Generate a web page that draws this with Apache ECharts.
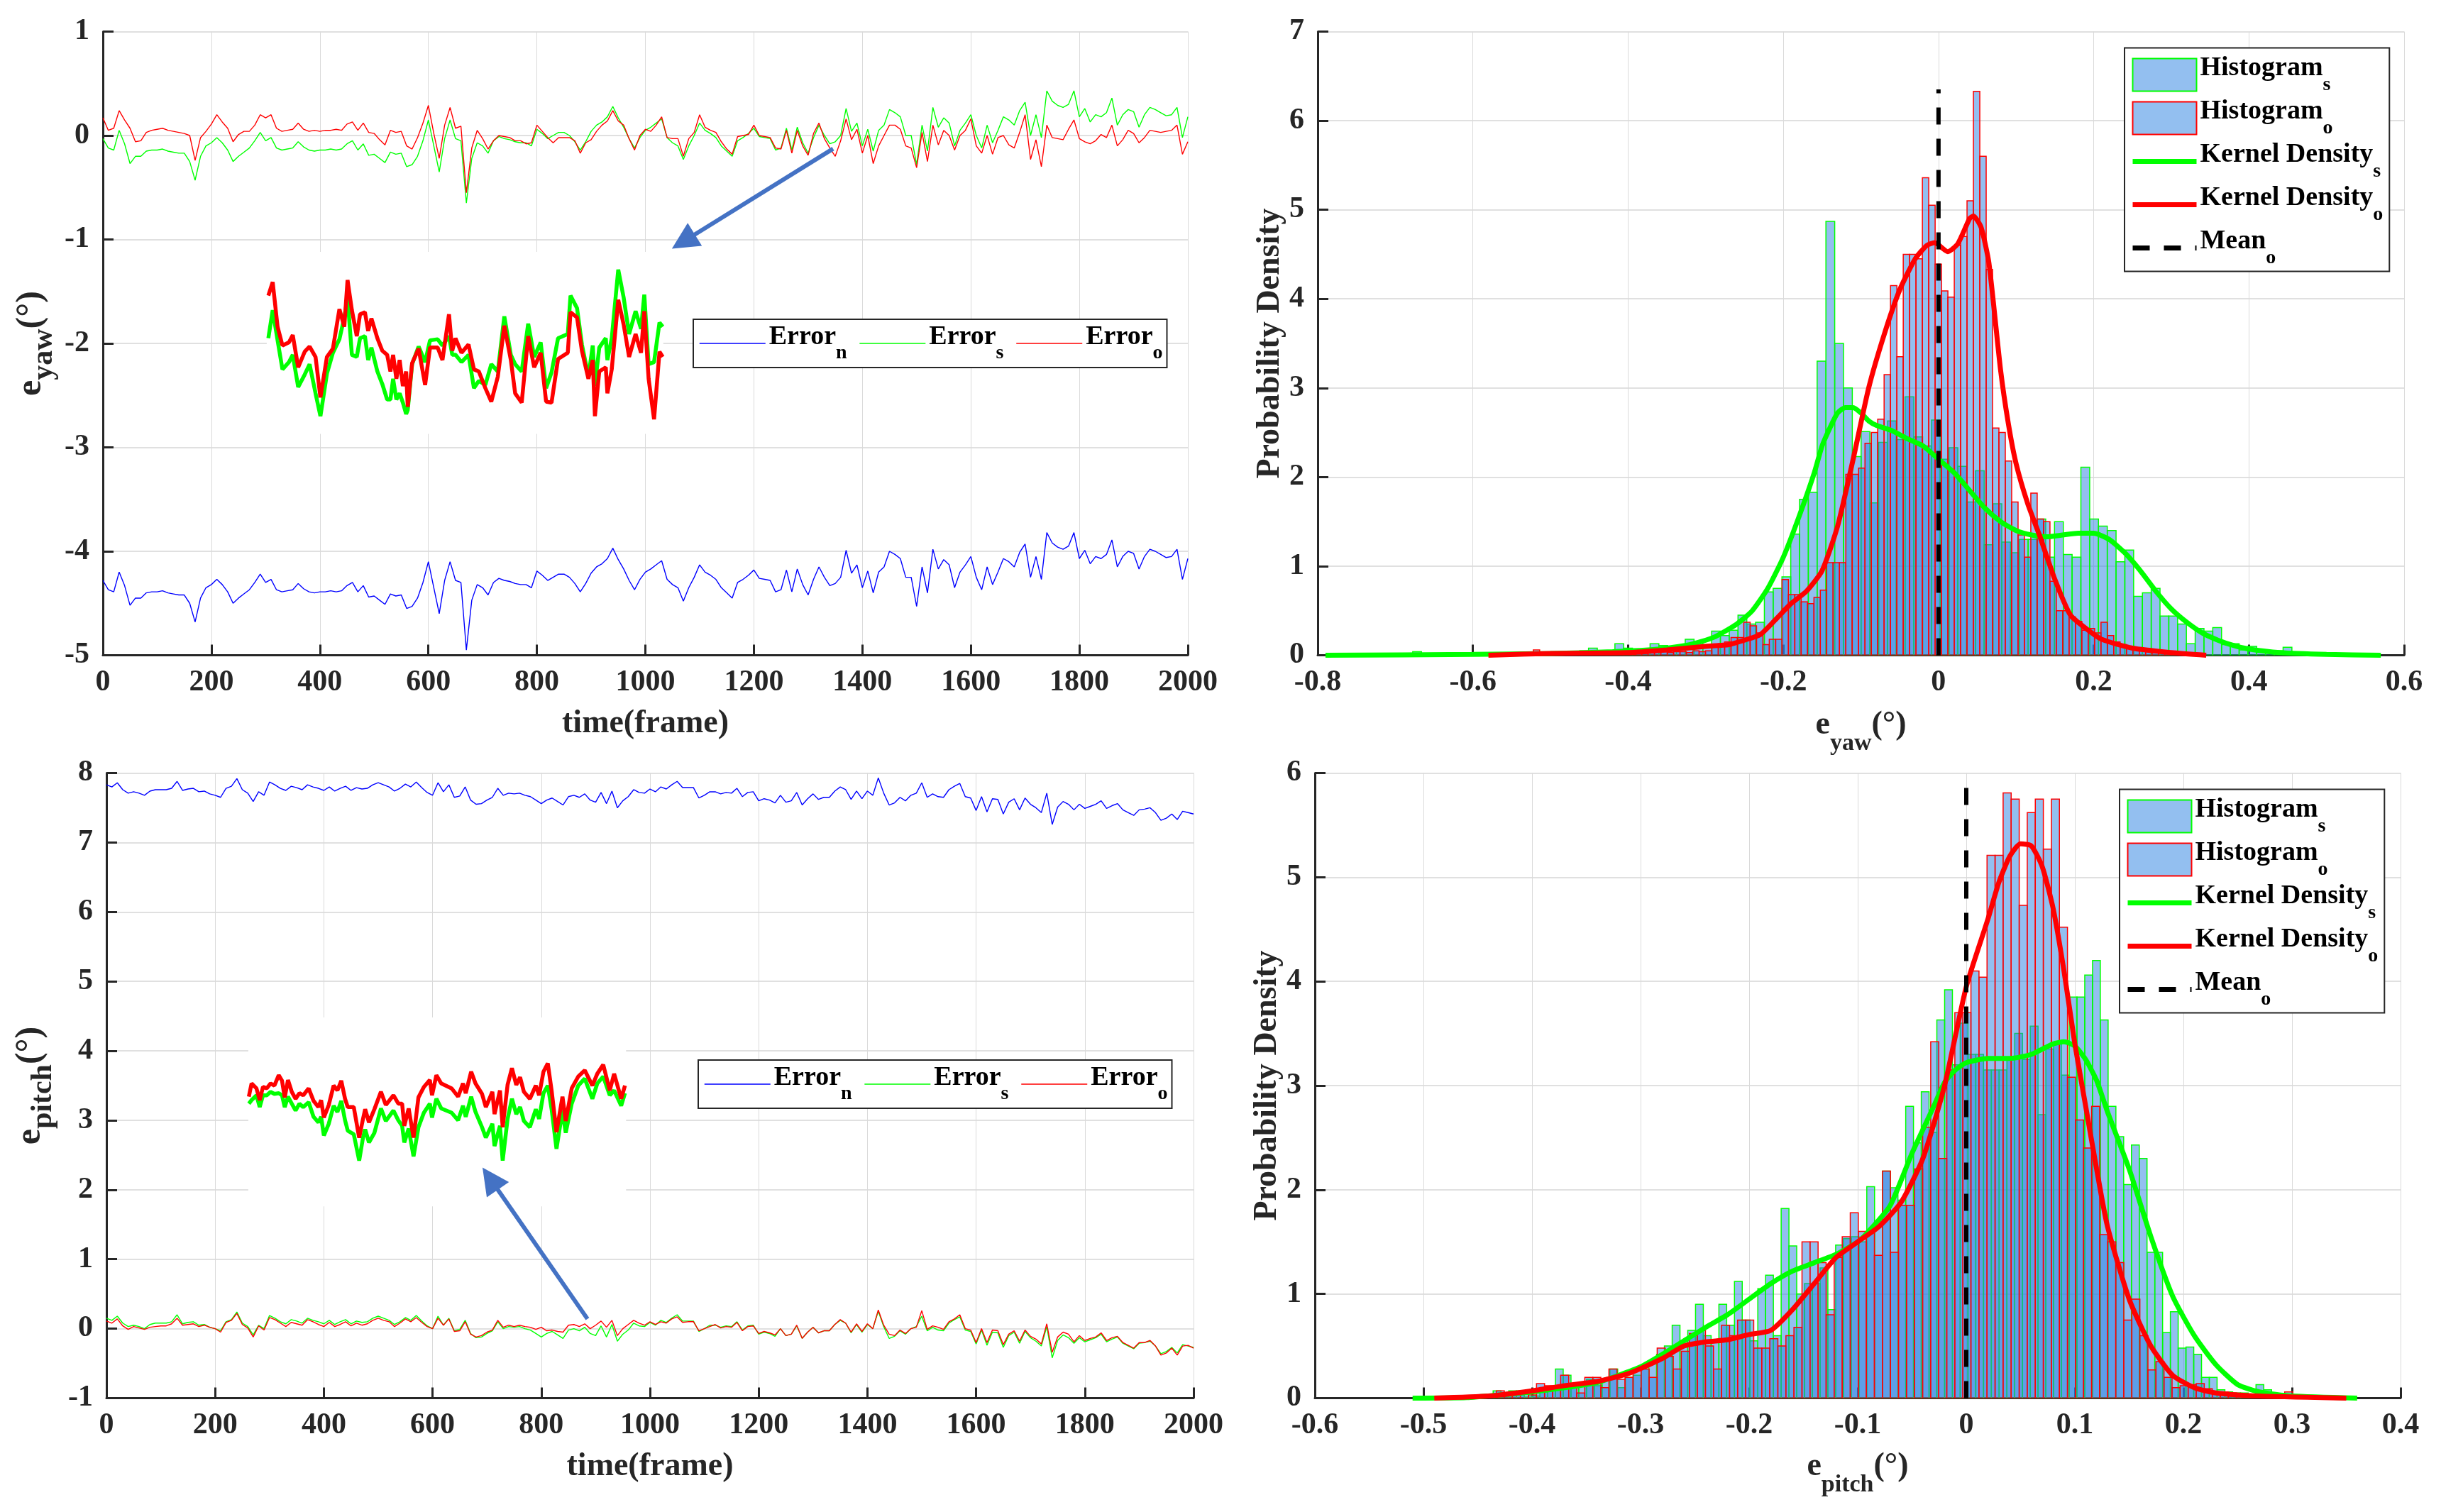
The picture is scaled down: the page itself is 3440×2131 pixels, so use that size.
<!DOCTYPE html>
<html>
<head>
<meta charset="utf-8">
<style>
  html, body { margin: 0; padding: 0; background: #fff; }
  #main { width: 3440px; height: 2131px; }
</style>
<script src="https://cdn.jsdelivr.net/npm/echarts@6/dist/echarts.min.js"></script>
</head>
<body>
<div id="main"></div>
<script>
// frames are sampled every 10 for the time traces
var frameStep = 10;

var yawErrorN = [
  -4.28,-4.37,-4.39,-4.2,-4.33,-4.52,-4.45,-4.45,-4.4,-4.39,
  -4.39,-4.38,-4.4,-4.41,-4.42,-4.42,-4.5,-4.68,-4.45,-4.35,
  -4.32,-4.27,-4.32,-4.39,-4.5,-4.45,-4.41,-4.37,-4.3,-4.22,
  -4.3,-4.27,-4.37,-4.39,-4.38,-4.37,-4.31,-4.36,-4.39,-4.4,
  -4.39,-4.39,-4.38,-4.39,-4.38,-4.33,-4.3,-4.39,-4.33,-4.44,
  -4.43,-4.47,-4.51,-4.41,-4.43,-4.42,-4.55,-4.53,-4.45,-4.3,
  -4.1,-4.35,-4.6,-4.28,-4.1,-4.28,-4.3,-4.95,-4.47,-4.32,
  -4.35,-4.42,-4.3,-4.26,-4.28,-4.29,-4.31,-4.32,-4.32,-4.35,
  -4.19,-4.23,-4.28,-4.25,-4.22,-4.22,-4.25,-4.31,-4.39,-4.31,
  -4.21,-4.15,-4.12,-4.07,-3.97,-4.08,-4.17,-4.28,-4.37,-4.27,
  -4.2,
  -4.17,-4.13,-4.09,-4.27,-4.32,-4.35,-4.48,-4.35,-4.25,-4.13,
  -4.2,-4.23,-4.27,-4.35,-4.4,-4.45,-4.3,-4.27,-4.23,-4.18,
  -4.26,-4.27,-4.28,-4.39,-4.37,-4.18,-4.39,-4.17,-4.32,-4.42,
  -4.27,-4.15,-4.25,-4.33,-4.31,-4.25,-3.99,-4.21,-4.13,-4.35,
  -4.19,-4.4,-4.2,-4.15,-4.0,-4.03,-4.07,-4.25,-4.25,-4.53,
  -4.15,-4.4,-3.98,-4.17,-4.08,-4.13,-4.35,-4.2,-4.13,-4.05,
  -4.25,-4.37,-4.15,-4.32,-4.2,-4.07,-4.1,-4.15,-4.01,-3.93,
  -4.25,-4.05,-4.27,-3.82,-3.92,-3.96,-3.98,-3.95,-3.82,-4.07,
  -3.99,-4.12,-4.05,-4.07,-4.03,-3.89,-4.15,-4.05,-4.0,-4.02,
  -4.17,-4.05,-3.98,-4.0,-4.03,-4.06,-4.05,-3.98,-4.27,-4.07
];
var yawErrorS = [
  -.03,-.12,-.14,.05,-.08,-.27,-.2,-.2,-.15,-.14,
  -.14,-.13,-.15,-.16,-.17,-.17,-.25,-.43,-.2,-.1,
  -.07,-.02,-.07,-.14,-.25,-.2,-.16,-.12,-.05,.03,
  -.05,-.02,-.12,-.14,-.13,-.12,-.06,-.11,-.14,-.15,
  -.14,-.14,-.13,-.14,-.13,-.08,-.05,-.14,-.08,-.19,
  -.18,-.22,-.26,-.16,-.18,-.17,-.3,-.28,-.2,-.05,
  .15,-.1,-.35,-.03,.15,-.03,-.05,-.65,-.22,-.07,
  -.1,-.17,-.05,-.01,-.03,-.04,-.06,-.07,-.07,-.1,
  .06,.02,-.03,0,.03,.03,0,-.06,-.14,-.06,
  .04,.1,.13,.18,.28,.17,.08,-.03,-.12,-.02,
  .05,
  .08,.12,.16,-.02,-.07,-.1,-.23,-.1,0,.12,
  .05,.02,-.02,-.1,-.15,-.2,-.05,-.02,.02,.07,
  -.01,-.02,-.03,-.14,-.12,.07,-.14,.08,-.07,-.17,
  -.02,.1,0,-.08,-.06,0,.26,.04,.12,-.1,
  .06,-.15,.05,.1,.25,.22,.18,0,0,-.28,
  .1,-.15,.27,.08,.17,.12,-.1,.05,.12,.2,
  0,-.12,.1,-.07,.05,.18,.15,.1,.24,.32,
  0,.2,-.02,.43,.33,.29,.27,.3,.43,.18,
  .26,.13,.2,.18,.22,.36,.1,.2,.25,.23,
  .08,.2,.27,.25,.22,.19,.2,.27,-.02,.18
];
var yawErrorO = [
  .17,.05,.07,.24,.15,.07,-.06,-.05,.03,.05,
  .06,.07,.05,.04,.03,.02,0,-.24,-.02,.04,
  .11,.2,.13,.07,-.06,.01,.04,.04,.1,.2,
  .17,.2,.07,.04,.05,.06,.12,.06,.04,.05,
  .04,.05,.05,.06,.05,.11,.13,.05,.12,.03,
  .02,-.04,-.09,.05,.03,.04,-.1,-.13,-.02,.12,
  .29,.02,-.22,.1,.27,.07,.09,-.55,-.12,.05,
  -.03,-.13,-.05,0,-.01,-.02,-.05,-.05,-.08,-.07,
  .1,.04,-.02,-.07,-.02,-.02,-.02,-.05,-.17,-.07,
  -.04,.04,.1,.14,.24,.14,.1,-.03,-.14,0,
  .06,
  .04,.1,.18,-.02,-.03,-.03,-.2,-.03,.03,.2,
  .08,.05,.03,-.06,-.13,-.18,-.01,0,.01,.1,
  0,-.01,-.02,-.12,-.13,.05,-.17,.05,-.1,-.19,
  .02,.12,-.03,-.12,-.2,-.05,.16,-.04,.06,-.17,
  0,-.27,-.1,0,.1,.1,.06,-.1,-.12,-.31,
  .03,-.25,.1,-.09,.05,0,-.14,0,.05,.16,
  -.1,-.17,0,-.18,-.02,0,-.09,-.12,.03,.2,
  -.23,-.04,-.3,.1,-.02,-.03,-.04,.06,.15,-.03,
  -.06,-.08,-.05,.01,-.02,.1,-.1,-.04,.05,.02,
  -.07,-.02,.05,.04,.03,.04,.05,.1,-.18,-.06
];

var pitchErrorN = [
  7.83,7.8,7.86,7.76,7.71,7.73,7.71,7.68,7.74,7.76,
  7.76,7.76,7.78,7.88,7.75,7.77,7.78,7.73,7.74,7.7,
  7.68,7.65,7.78,7.81,7.92,7.76,7.71,7.59,7.73,7.68,
  7.87,7.83,7.78,7.75,7.81,7.79,7.76,7.83,7.8,7.78,
  7.75,7.8,7.74,7.78,7.81,7.75,7.79,7.77,7.78,7.83,
  7.86,7.83,7.8,7.74,7.78,7.84,7.8,7.87,7.79,7.72,
  7.68,7.86,7.73,7.83,7.65,7.67,7.8,7.61,7.55,7.56,
  7.61,7.65,7.78,7.68,7.71,7.7,7.71,7.68,7.66,7.61,
  7.56,7.61,7.64,7.59,7.54,7.66,7.68,7.65,7.7,7.61,
  7.58,7.72,7.56,7.74,7.5,7.6,7.66,7.76,7.72,7.71,
  7.77,
  7.73,7.8,7.77,7.83,7.88,7.79,7.79,7.79,7.64,7.68,
  7.73,7.73,7.7,7.72,7.71,7.78,7.66,7.72,7.73,7.6,
  7.63,7.61,7.57,7.68,7.58,7.6,7.72,7.54,7.63,7.7,
  7.62,7.65,7.65,7.74,7.8,7.76,7.62,7.74,7.63,7.74,
  7.68,7.93,7.71,7.54,7.57,7.65,7.6,7.68,7.71,7.86,
  7.65,7.7,7.66,7.65,7.76,7.81,7.85,7.66,7.64,7.46,
  7.66,7.44,7.63,7.62,7.41,7.58,7.63,7.47,7.64,7.55,
  7.5,7.43,7.71,7.26,7.51,7.59,7.55,7.47,7.55,7.49,
  7.52,7.55,7.6,7.49,7.53,7.56,7.47,7.43,7.39,7.47,
  7.48,7.5,7.43,7.32,7.35,7.41,7.33,7.45,7.43,7.41
];
var pitchErrorS = [
  .15,.12,.18,.08,.03,.05,.03,0,.06,.08,
  .08,.08,.1,.2,.07,.09,.1,.05,.06,.02,
  0,-.03,.1,.13,.24,.08,.03,-.09,.05,0,
  .19,.15,.1,.07,.13,.11,.08,.15,.12,.1,
  .07,.12,.06,.1,.13,.07,.11,.09,.1,.15,
  .18,.15,.12,.06,.1,.16,.12,.19,.11,.04,
  0,.18,.05,.15,-.03,-.01,.12,-.07,-.13,-.12,
  -.07,-.03,.1,0,.03,.02,.03,0,-.02,-.07,
  -.12,-.07,-.04,-.09,-.14,-.02,0,-.03,.02,-.07,
  -.1,.04,-.12,.06,-.18,-.08,-.02,.08,.04,.03,
  .09,
  .05,.12,.09,.15,.2,.11,.11,.11,-.04,0,
  .05,.05,.02,.04,.03,.1,-.02,.04,.05,-.08,
  -.05,-.07,-.11,0,-.1,-.08,.04,-.14,-.05,.02,
  -.06,-.03,-.03,.06,.12,.08,-.06,.06,-.05,.06,
  0,.25,.03,-.14,-.11,-.03,-.08,0,.03,.18,
  -.03,.02,-.02,-.03,.08,.13,.17,-.02,-.04,-.22,
  -.02,-.24,-.05,-.06,-.27,-.1,-.05,-.21,-.04,-.13,
  -.18,-.25,.03,-.42,-.17,-.09,-.13,-.21,-.13,-.19,
  -.16,-.13,-.08,-.19,-.15,-.12,-.21,-.25,-.29,-.21,
  -.2,-.18,-.25,-.36,-.33,-.27,-.35,-.23,-.25,-.27
];
var pitchErrorO = [
  .11,.08,.14,.04,-.01,.03,.01,-.01,.02,.03,
  .04,.04,.07,.15,.05,.06,.07,.03,.05,.02,
  0,-.05,.09,.12,.22,.06,.01,-.12,.04,-.02,
  .16,.13,.08,.03,.09,.07,.05,.13,.1,.06,
  .03,.09,.03,.06,.1,.04,.08,.05,.07,.12,
  .15,.12,.1,.03,.08,.14,.1,.16,.09,.03,
  0,.15,.05,.14,-.04,-.03,.1,-.08,-.12,-.1,
  -.05,-.02,.12,.02,.05,.03,.05,.03,.02,-.01,
  .02,-.03,-.02,-.04,-.05,.05,.06,.03,.07,0,
  .05,.11,.02,.12,-.1,0,.06,.12,.08,.05,
  .1,
  .06,.1,.08,.14,.17,.09,.1,.1,-.03,0,
  .03,.06,.01,.03,.02,.09,-.03,.03,.04,-.07,
  -.04,-.06,-.09,0,-.1,-.08,.05,-.14,-.05,.02,
  -.06,-.03,-.03,.06,.13,.08,-.05,.07,-.04,.07,
  0,.27,.05,-.08,-.1,-.02,-.07,0,.02,.26,
  -.01,.04,.02,-.01,.1,.14,.2,0,-.02,-.2,
  0,-.2,-.02,-.03,-.23,-.08,-.03,-.18,-.02,-.11,
  -.15,-.22,.07,-.34,-.12,-.05,-.08,-.19,-.1,-.17,
  -.14,-.12,-.06,-.17,-.13,-.11,-.2,-.24,-.28,-.2,
  -.2,-.17,-.25,-.38,-.35,-.28,-.38,-.25,-.24,-.28
];

// enlarged insets, read in the axis units of their panel
var yawInsetFrames = [305,313,322,331,343,350,360,372,381,392,401,413,424,436,445,451,459,468,474,483,489,495,506,515,524,530,535,541,547,553,559,562,570,582,594,603,617,626,638,644,650,661,674,684,693,705,716,728,740,752,760,772,784,795,807,817,827,839,857,862,874,883,895,903,907,915,927,930,938,950,960,970,982,992,998,1006,1016,1026,1032];
var yawInsetS = [-1.95,-1.68,-1.97,-2.25,-2.18,-2.11,-2.42,-2.3,-2.2,-2.48,-2.7,-2.29,-2.09,-1.96,-1.75,-1.56,-2.11,-2.13,-1.95,-1.93,-2.16,-2.04,-2.27,-2.39,-2.54,-2.54,-2.34,-2.54,-2.48,-2.57,-2.68,-2.64,-2.2,-2.03,-2.18,-1.97,-1.96,-2.02,-1.93,-2.11,-2.11,-2.18,-2.11,-2.43,-2.36,-2.4,-2.2,-2.27,-1.74,-2.11,-2.2,-2.27,-1.81,-2.13,-1.99,-2.43,-2.28,-1.95,-1.91,-1.54,-1.66,-2.01,-2.32,-2.02,-2.41,-2.04,-1.95,-2.16,-1.95,-1.29,-1.56,-1.91,-1.69,-1.86,-1.53,-2.2,-2.18,-1.8,-1.84];
var yawInsetO = [-1.54,-1.41,-1.84,-2.02,-1.99,-1.92,-2.23,-2.08,-2.03,-2.13,-2.52,-2.13,-2.05,-1.67,-1.84,-1.39,-1.68,-1.93,-1.72,-1.7,-1.88,-1.76,-1.95,-2.07,-2.11,-2.27,-2.11,-2.34,-2.16,-2.41,-2.27,-2.61,-2.19,-2.05,-2.4,-2.04,-2.04,-2.16,-1.72,-2.07,-1.95,-2.09,-2.01,-2.25,-2.27,-2.43,-2.56,-2.32,-1.83,-2.16,-2.48,-2.57,-1.93,-2.23,-2.09,-2.56,-2.57,-2.15,-2.09,-1.7,-1.75,-2.07,-2.34,-2.16,-2.7,-2.27,-2.23,-2.48,-2.25,-1.58,-1.82,-2.13,-1.91,-2.09,-1.69,-2.34,-2.73,-2.08,-2.13];
var pitchInsetFrames = [262,267,276,282,288,295,302,309,317,323,328,334,341,348,355,362,372,381,390,395,400,409,418,425,432,439,444,455,465,472,476,483,493,505,514,528,537,544,548,556,565,574,584,595,599,607,616,635,647,656,661,671,679,691,698,710,714,724,729,738,746,754,761,768,779,790,796,804,812,819,828,839,845,856,868,880,894,903,914,926,934,947,954];
var pitchInsetS = [3.24,3.29,3.36,3.19,3.36,3.36,3.41,3.38,3.39,3.36,3.19,3.34,3.24,3.14,3.24,3.19,3.26,3.05,2.97,3.05,2.78,2.95,3.21,3.12,3.28,3,2.85,2.8,2.42,2.75,2.87,2.68,2.82,3.17,2.99,3.14,3,2.92,2.68,2.88,2.48,2.9,3.11,3.24,3.04,3.31,3.17,3.11,3,3.21,3.05,3.34,3.12,2.9,2.75,2.95,2.63,2.92,2.42,3.02,3.31,3.09,3.19,2.99,2.9,3.16,3.02,3.39,3.5,3.16,2.59,3.14,2.82,3.24,3.5,3.6,3.31,3.53,3.63,3.36,3.43,3.21,3.39];
var pitchInsetO = [3.34,3.53,3.46,3.29,3.48,3.46,3.53,3.5,3.65,3.57,3.33,3.58,3.41,3.31,3.39,3.36,3.46,3.28,3.19,3.29,3.04,3.22,3.5,3.43,3.57,3.31,3.19,3.19,2.75,3.02,3.16,2.97,3.16,3.41,3.22,3.36,3.24,3.24,2.92,3.17,2.75,3.33,3.48,3.58,3.36,3.65,3.53,3.46,3.34,3.53,3.39,3.7,3.53,3.38,3.19,3.41,3.09,3.43,2.9,3.51,3.75,3.51,3.62,3.41,3.31,3.5,3.36,3.7,3.82,3.43,2.83,3.34,2.99,3.46,3.63,3.72,3.5,3.67,3.8,3.43,3.67,3.31,3.5];

// histograms: first bin edge, bin width, heights
var yawHistSStart = -.6776, yawHistSWidth = .01133;
var yawHistS = [.04,0,0,0,0,0,0,.03,0,0,.02,.02,.03,.02,.03,.02,.03,.03,.04,.05,.08,.05,.04,.13,.08,.06,.05,.13,.11,.08,.1,.18,.15,.12,.27,.22,.28,.45,.35,.37,.71,.75,.88,1.36,1.75,1.83,3.3,4.87,3.5,3,2.23,2.51,1.71,2.39,2.63,2.42,2.9,2.45,2.35,2.64,2.2,2.33,2.12,1.72,2.07,1.24,1.7,1.27,1.15,1.3,1.3,1.53,1.1,1.5,1.13,1.1,2.11,1.53,1.45,1.4,1.05,1.18,.66,.7,.75,.44,.44,.35,.13,.3,.27,.31,.12,.13,.06,.1,.05,.04,.05,.09,.03,.02,.02,.01];
var yawHistOStart = -.5222, yawHistOWidth = .00822;
var yawHistO = [
  .06,.02,.01,.03,.02,.02,.03,.01,.03,.02,
  .03,.04,.02,.03,.03,.04,.03,.02,.03,.05,
  .04,.03,.04,.04,.03,.05,.04,.05,.11,.13,
  .15,.2,.2,.37,.33,.25,.12,.18,.18,.85,
  .68,.68,.6,.58,.65,.73,1.04,1.04,1.04,2.03,
  2.03,2.1,2.38,2.5,2.65,3.15,4.15,3.35,4.5,4.5,
  4.45,5.36,5.05,4.39,4.09,4.02,4.6,4.7,5.1,6.33,
  5.6,4.33,2.55,2.5,2.18,1.72,1.35,1.1,1.82,1.53,
  1.5,.83,.5,.5,.43,.38,.28,.3,.25,.37,
  .22,.15,.12,.1,.08,.05,.05,.03,.03,.03,.02,.02
];
var pitchHistSStart = -.4358, pitchHistSWidth = .00717;
var pitchHistS = [.07,.05,.07,.07,.01,.02,.06,.1,.28,.22,.1,.12,.18,.12,.18,.28,.1,.2,.22,.28,.33,.42,.5,.7,.55,.65,.9,.6,.55,.9,.7,1.12,.75,.55,1.05,1.18,.6,1.82,1.46,1,1.1,1.1,1.25,.85,1.47,1.53,1.55,1.5,2.03,1.7,2.18,2.02,1.9,2.8,2.45,2.94,2.55,3.63,3.92,3.2,3.6,3.3,3.3,3.15,3.15,3.15,3.25,3.5,3.25,3.57,2.72,3.35,3.4,3.1,3.85,3.85,4.06,4.2,3.63,2.8,2.51,2.05,2.43,2.3,1.4,1.4,.63,.83,.48,.49,.42,.2,.2,.08,.06,.05,.05,.04,.13,.08];
var pitchHistOStart = -.4329, pitchHistOWidth = .00741;
var pitchHistO = [.07,.03,.05,.04,.03,.14,.12,.1,.22,.1,.05,.2,.2,.1,.28,.18,.2,.28,.28,.2,.48,.4,.28,.45,.62,.65,.5,.28,.7,.6,.75,.75,.48,.48,.57,.5,.6,.68,1.5,1.5,1.3,.8,1.35,1.55,1.78,1.6,1.6,1.37,2.18,1.4,1.85,1.85,2.2,2.6,3.42,2.3,3.15,3.7,3.7,4.1,4.04,5.21,5.21,5.81,5.75,4.73,5.62,5.75,5.27,5.75,4.52,3.08,2.67,2.4,2.8,1.57,1.5,1.3,.75,.95,.6,.27,.35,.2,.1,.12,.13,.14,.09,.05,.06,.05,.03,.02,.02,.03,.02,.02,.06,.03];

// kernel density curves
var yawKdeSX = [-.79,-.6,-.5,-.42,-.36,-.32,-.29,-.26,-.24,-.22,-.2,-.18,-.16,-.15,-.14,-.13,-.12,-.11,-.1,-.09,-.08,-.06,-.04,-.02,0,.02,.04,.06,.08,.1,.12,.14,.16,.18,.2,.22,.24,.26,.28,.3,.32,.34,.36,.38,.4,.44,.5,.57];
var yawKdeSY = [0,.01,.02,.04,.07,.12,.2,.35,.5,.75,1.1,1.55,2.05,2.35,2.55,2.72,2.78,2.78,2.72,2.63,2.58,2.52,2.43,2.35,2.2,2.05,1.85,1.65,1.5,1.4,1.35,1.33,1.35,1.37,1.37,1.3,1.15,.95,.72,.52,.37,.25,.17,.11,.07,.03,.01,0];
var yawKdeOX = [-.58,-.5,-.4,-.35,-.3,-.27,-.25,-.23,-.21,-.19,-.17,-.15,-.13,-.11,-.09,-.07,-.05,-.03,-.015,-.005,.012,.025,.04,.045,.055,.065,.08,.09,.1,.115,.13,.15,.17,.19,.21,.25,.3,.345];
var yawKdeOY = [0,.02,.03,.06,.1,.12,.17,.23,.4,.58,.72,.95,1.45,2.2,3,3.6,4.1,4.45,4.6,4.63,4.53,4.62,4.9,4.93,4.8,4.4,3.2,2.6,2.15,1.7,1.35,.85,.45,.3,.18,.08,.03,0];
var pitchKdeSX = [-.51,-.46,-.43,-.4,-.37,-.34,-.32,-.3,-.28,-.26,-.24,-.22,-.2,-.18,-.16,-.14,-.12,-.1,-.09,-.07,-.05,-.03,-.02,-.01,0,.02,.04,.06,.08,.09,.1,.11,.12,.13,.15,.17,.19,.21,.23,.25,.27,.3,.36];
var pitchKdeSY = [0,.005,.03,.06,.1,.15,.22,.3,.42,.55,.68,.8,.95,1.1,1.22,1.3,1.38,1.5,1.6,1.85,2.35,2.8,3.03,3.15,3.22,3.26,3.26,3.3,3.4,3.42,3.38,3.25,3.05,2.75,2.2,1.55,.98,.6,.32,.13,.06,.02,0];
var pitchKdeOX = [-.49,-.44,-.4,-.37,-.34,-.31,-.28,-.26,-.24,-.22,-.2,-.18,-.16,-.14,-.12,-.1,-.08,-.06,-.04,-.02,0,.02,.03,.04,.05,.06,.07,.08,.09,.1,.11,.12,.13,.15,.17,.19,.21,.23,.27,.35];
var pitchKdeOY = [0,.02,.07,.12,.16,.24,.38,.5,.54,.56,.61,.65,.85,1.1,1.35,1.5,1.65,1.88,2.3,3,3.95,4.6,4.95,5.2,5.32,5.3,5.1,4.7,4.1,3.4,2.8,2.2,1.65,.95,.5,.22,.1,.05,.02,0];

var yawMeanLine = [0, 6.35];
var pitchMeanLine = [0, 5.97];

var FONT = '"Liberation Serif", "Times New Roman", serif';
var INK = '#262626';
var GREEN = '#00ff00', RED = '#ff0000', BLUE = '#0000ff', ARROW = '#4472c4';

function zip(xs, ys) {
  return xs.map(function (x, i) { return [x, ys[i]]; });
}
function traceData(values) {
  return values.map(function (v, i) { return [i * frameStep, v]; });
}
// [left edge, right edge, height] for every non empty bin
function binData(start, width, heights) {
  var out = [];
  heights.forEach(function (h, i) {
    if (h > 0) out.push([start + i * width, start + (i + 1) * width, h]);
  });
  return out;
}
function legendLabel(name) {
  var p = name.split('|');
  return '{a|' + p[1] + '}{b|' + p[2] + '}';
}
function axisName(sub) {
  return '{a|e}{b|' + sub + '}{a|(°)}';
}

function xAxisOf(idx, min, max, interval, name, nameGap) {
  return {
    type: 'value', gridIndex: idx, min: min, max: max, interval: interval,
    name: name, nameLocation: 'middle', nameGap: nameGap,
    nameTextStyle: {
      fontFamily: FONT, fontWeight: 'bold', fontSize: 46, color: INK,
      rich: {
        a: { fontFamily: FONT, fontWeight: 'bold', fontSize: 46, color: INK, lineHeight: 66, verticalAlign: 'top' },
        b: { fontFamily: FONT, fontWeight: 'bold', fontSize: 34, color: INK, lineHeight: 66, verticalAlign: 'bottom' }
      }
    },
    axisLine: { onZero: false, lineStyle: { color: INK, width: 3 } },
    axisTick: { inside: true, length: 15, lineStyle: { color: INK, width: 3 } },
    axisLabel: {
      fontFamily: FONT, fontWeight: 'bold', fontSize: 42, color: INK, margin: 18,
      formatter: function (v) { return String(v); }
    },
    splitLine: { show: true, lineStyle: { color: '#dadada', width: 1 } }
  };
}
function yAxisOf(idx, min, max, interval, name, nameGap, plain) {
  return {
    type: 'value', gridIndex: idx, min: min, max: max, interval: interval,
    name: name, nameLocation: 'middle', nameGap: nameGap,
    nameTextStyle: {
      fontFamily: FONT, fontWeight: 'bold', fontSize: plain ? 46 : 50, color: INK,
      rich: {
        a: { fontFamily: FONT, fontWeight: 'bold', fontSize: 50, color: INK, lineHeight: 64, verticalAlign: 'top' },
        b: { fontFamily: FONT, fontWeight: 'bold', fontSize: 42, color: INK, lineHeight: 64, verticalAlign: 'bottom' }
      }
    },
    axisLine: { onZero: false, lineStyle: { color: INK, width: 3 } },
    axisTick: { inside: true, length: 15, lineStyle: { color: INK, width: 3 } },
    axisLabel: {
      fontFamily: FONT, fontWeight: 'bold', fontSize: 42, color: INK, margin: 19,
      formatter: function (v) { return String(v); }
    },
    splitLine: { show: true, lineStyle: { color: '#e0e0e0', width: 2 } }
  };
}
function legendOf(left, top, names, orient, opts) {
  var base = {
    show: true, left: left, top: top, orient: orient, data: names,
    backgroundColor: '#fff', borderColor: INK, borderWidth: 2,
    itemWidth: 90, selectedMode: false, formatter: legendLabel,
    inactiveColor: '#000',
    textStyle: {
      fontFamily: FONT, fontWeight: 'bold', color: '#000', fontSize: 38, lineHeight: 56,
      rich: {
        a: { fontFamily: FONT, fontWeight: 'bold', fontSize: 38, color: '#000', lineHeight: 56, verticalAlign: 'top' },
        b: { fontFamily: FONT, fontWeight: 'bold', fontSize: 28, color: '#000', lineHeight: 56, verticalAlign: 'bottom' }
      }
    }
  };
  for (var k in opts) base[k] = opts[k];
  return base;
}
function lineSeries(name, idx, data, color, width, extra) {
  var s = {
    name: name, type: 'line', xAxisIndex: idx, yAxisIndex: idx, data: data,
    symbol: 'none', showSymbol: false, animation: false, silent: true, z: 3,
    lineStyle: { color: color, width: width }, itemStyle: { color: color }
  };
  for (var k in extra) s[k] = extra[k];
  return s;
}
function histSeries(name, idx, data, stroke) {
  return {
    name: name, type: 'custom', xAxisIndex: idx, yAxisIndex: idx, data: data,
    encode: { x: [0, 1], y: 2 }, animation: false, silent: true, z: 3,
    clip: true,
    renderItem: function (params, api) {
      var a = api.coord([api.value(0), api.value(2)]);
      var b = api.coord([api.value(1), 0]);
      return {
        type: 'rect',
        shape: { x: a[0], y: a[1], width: b[0] - a[0], height: b[1] - a[1] },
        style: { fill: 'rgba(39,127,225,0.5)', stroke: stroke, lineWidth: 1.5 }
      };
    },
    itemStyle: { color: '#93bff0', borderColor: stroke, borderWidth: 2 }
  };
}
function histLegendItem(name, stroke) {
  return { name: name, icon: 'rect', itemStyle: { color: '#93bff0', borderColor: stroke, borderWidth: 2 } };
}
// the legend keeps only the line of a line series, the marker is hidden
function lineLegendItem(name, width, dash) {
  var style = { width: width };
  if (dash) style.type = dash;
  return { name: name, lineStyle: style, itemStyle: { opacity: 0 } };
}
function blankArea(x0, y0, x1, y1) {
  return {
    silent: true, itemStyle: { color: '#fff', opacity: 1 }, label: { show: false },
    data: [[{ coord: [x0, y0] }, { coord: [x1, y1] }]]
  };
}
function arrowLine(x0, y0, x1, y1) {
  return {
    silent: true, symbol: ['none', 'triangle'], symbolSize: 38, precision: 3,
    lineStyle: { color: ARROW, width: 6, type: 'solid' },
    itemStyle: { color: ARROW },
    label: { show: false },
    emphasis: { disabled: true },
    data: [[{ coord: [x0, y0] }, { coord: [x1, y1] }]]
  };
}
function traceLegend(left, top, prefix) {
  return legendOf(left, top, [
    lineLegendItem(prefix + '|Error|n', 1.5),
    lineLegendItem(prefix + '|Error|s', 1.5),
    lineLegendItem(prefix + '|Error|o', 1.5)
  ], 'horizontal', { padding: [6, 6, 6, 8], itemGap: 17, itemHeight: 2, itemWidth: 93 });
}
function histLegend(left, top, prefix) {
  return legendOf(left, top, [
    histLegendItem(prefix + '|Histogram|s', GREEN),
    histLegendItem(prefix + '|Histogram|o', RED),
    lineLegendItem(prefix + '|Kernel Density|s', 7),
    lineLegendItem(prefix + '|Kernel Density|o', 7),
    lineLegendItem(prefix + '|Mean|o', 7, [24, 20])
  ], 'vertical', { padding: [10, 9, 5, 8], itemGap: 5, itemHeight: 46 });
}

var option = {
  backgroundColor: '#fff',
  animation: false,
  grid: [
    { left: 145, top: 44.5, width: 1529, height: 879 },
    { left: 1857, top: 44.5, width: 1531, height: 879 },
    { left: 150, top: 1089.5, width: 1532, height: 881 },
    { left: 1853, top: 1089.5, width: 1530, height: 881 }
  ],
  xAxis: [
    xAxisOf(0, 0, 2000, 200, 'time(frame)', 74),
    xAxisOf(1, -0.8, 0.6, 0.2, axisName('yaw'), 76),
    xAxisOf(2, 0, 2000, 200, 'time(frame)', 74),
    xAxisOf(3, -0.6, 0.4, 0.1, axisName('pitch'), 74)
  ],
  yAxis: [
    yAxisOf(0, -5, 1, 1, axisName('yaw'), 62, false),
    yAxisOf(1, 0, 7, 1, 'Probability Density', 44, true),
    yAxisOf(2, -1, 8, 1, axisName('pitch'), 68, false),
    yAxisOf(3, 0, 6, 1, 'Probability Density', 44, true)
  ],
  legend: [
    traceLegend(977, 450, 'yaw'),
    histLegend(2994, 67.5, 'yawH'),
    traceLegend(984, 1494, 'pitch'),
    histLegend(2987, 1112.5, 'pitchH')
  ],
  series: [
    // yaw traces
    lineSeries('yaw|Error|n', 0, traceData(yawErrorN), BLUE, 1.4),
    lineSeries('yaw|Error|s', 0, traceData(yawErrorS), GREEN, 1.4),
    lineSeries('yaw|Error|o', 0, traceData(yawErrorO), RED, 1.4),
    lineSeries('yawInsetS', 0, zip(yawInsetFrames, yawInsetS), GREEN, 5.5, {
      markArea: blankArea(302, -1.12, 1033, -2.87),
      markLine: arrowLine(1346, -0.127, 1070, -1.02)
    }),
    lineSeries('yawInsetO', 0, zip(yawInsetFrames, yawInsetO), RED, 5.5),

    // yaw histogram
    histSeries('yawH|Histogram|s', 1, binData(yawHistSStart, yawHistSWidth, yawHistS), GREEN),
    histSeries('yawH|Histogram|o', 1, binData(yawHistOStart, yawHistOWidth, yawHistO), RED),
    lineSeries('yawH|Kernel Density|s', 1, zip(yawKdeSX, yawKdeSY), GREEN, 7, { smooth: 0.2, z: 4 }),
    lineSeries('yawH|Kernel Density|o', 1, zip(yawKdeOX, yawKdeOY), RED, 7, { smooth: 0.2, z: 5 }),
    lineSeries('yawH|Mean|o', 1, [[0, yawMeanLine[0]], [0, yawMeanLine[1]]], '#000', 6, {
      z: 6, lineStyle: { color: '#000', width: 6, type: [24, 20] }
    }),

    // pitch traces
    lineSeries('pitch|Error|n', 2, traceData(pitchErrorN), BLUE, 1.4),
    lineSeries('pitch|Error|s', 2, traceData(pitchErrorS), GREEN, 1.4),
    lineSeries('pitch|Error|o', 2, traceData(pitchErrorO), RED, 1.4),
    lineSeries('pitchInsetS', 2, zip(pitchInsetFrames, pitchInsetS), GREEN, 5.5, {
      markArea: blankArea(261, 4.48, 956, 1.76),
      markLine: arrowLine(885, 0.14, 706, 2.16)
    }),
    lineSeries('pitchInsetO', 2, zip(pitchInsetFrames, pitchInsetO), RED, 5.5),

    // pitch histogram
    histSeries('pitchH|Histogram|s', 3, binData(pitchHistSStart, pitchHistSWidth, pitchHistS), GREEN),
    histSeries('pitchH|Histogram|o', 3, binData(pitchHistOStart, pitchHistOWidth, pitchHistO), RED),
    lineSeries('pitchH|Kernel Density|s', 3, zip(pitchKdeSX, pitchKdeSY), GREEN, 7, { smooth: 0.2, z: 4 }),
    lineSeries('pitchH|Kernel Density|o', 3, zip(pitchKdeOX, pitchKdeOY), RED, 7, { smooth: 0.2, z: 5 }),
    lineSeries('pitchH|Mean|o', 3, [[0, pitchMeanLine[0]], [0, pitchMeanLine[1]]], '#000', 6, {
      z: 6, lineStyle: { color: '#000', width: 6, type: [24, 20] }
    })
  ]
};

var myChart = echarts.init(document.getElementById('main'), null, { renderer: 'canvas' });
myChart.setOption(option);
</script>
</body>
</html>
